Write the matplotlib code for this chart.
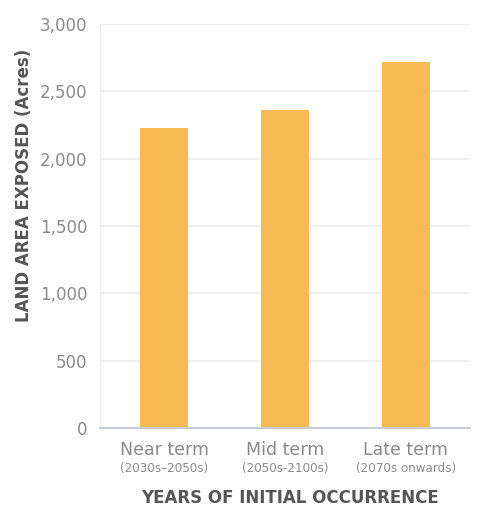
import numpy as np
import matplotlib.pyplot as plt

# data
terms = ['Near term', 'Mid term', 'Late term']
periods = ['(2030s\u20132050s)', '(2050s-2100s)', '(2070s onwards)']
acres = [2230, 2360, 2715]
yticks = [0, 500, 1000, 1500, 2000, 2500, 3000]

bar_color = '#F7BA55'
txt_gray = '#8a8a8a'

plt.rcParams['font.family'] = ['DejaVu Sans']

fig = plt.figure(figsize=(4.84, 5.17), dpi=100)
ax = fig.add_axes([0.2066, 0.172, 0.7644, 0.7816])

x = np.arange(len(terms))
ax.bar(x, acres, width=0.4, color=bar_color, zorder=3)

ax.set_ylim(0, 3000)
ax.set_xlim(-0.53, 2.53)
ax.set_yticks(yticks)
ax.set_yticklabels(['{:,}'.format(v) for v in yticks], color=txt_gray, fontsize=12)
ax.grid(axis='y', color='#ececec', linewidth=1.2, zorder=0)
ax.tick_params(axis='y', length=0, pad=9)

ax.set_xticks(x)
ax.set_xticklabels([])
ax.tick_params(axis='x', length=0)
for i in range(len(terms)):
    ax.text(x[i], -95, terms[i], ha='center', va='top', fontsize=12.5, color=txt_gray)
    ax.text(x[i], -255, periods[i], ha='center', va='top', fontsize=8.6, color=txt_gray)

for s in ['top', 'right']:
    ax.spines[s].set_visible(False)
ax.spines['left'].set_color('#eeeeee')
ax.spines['bottom'].set_color('#c9cdd6')
ax.spines['bottom'].set_linewidth(1.5)
ax.spines['bottom'].set_zorder(4)

ax.set_ylabel('LAND AREA EXPOSED (Acres)', fontsize=12, fontweight='bold', color='#555555')
ax.yaxis.set_label_coords(-0.18, 0.60)
fig.text(0.60, 0.037, 'YEARS OF INITIAL OCCURRENCE', ha='center', va='center',
         fontsize=12, fontweight='bold', color='#555555')

fig.savefig('out.png', dpi=100)
